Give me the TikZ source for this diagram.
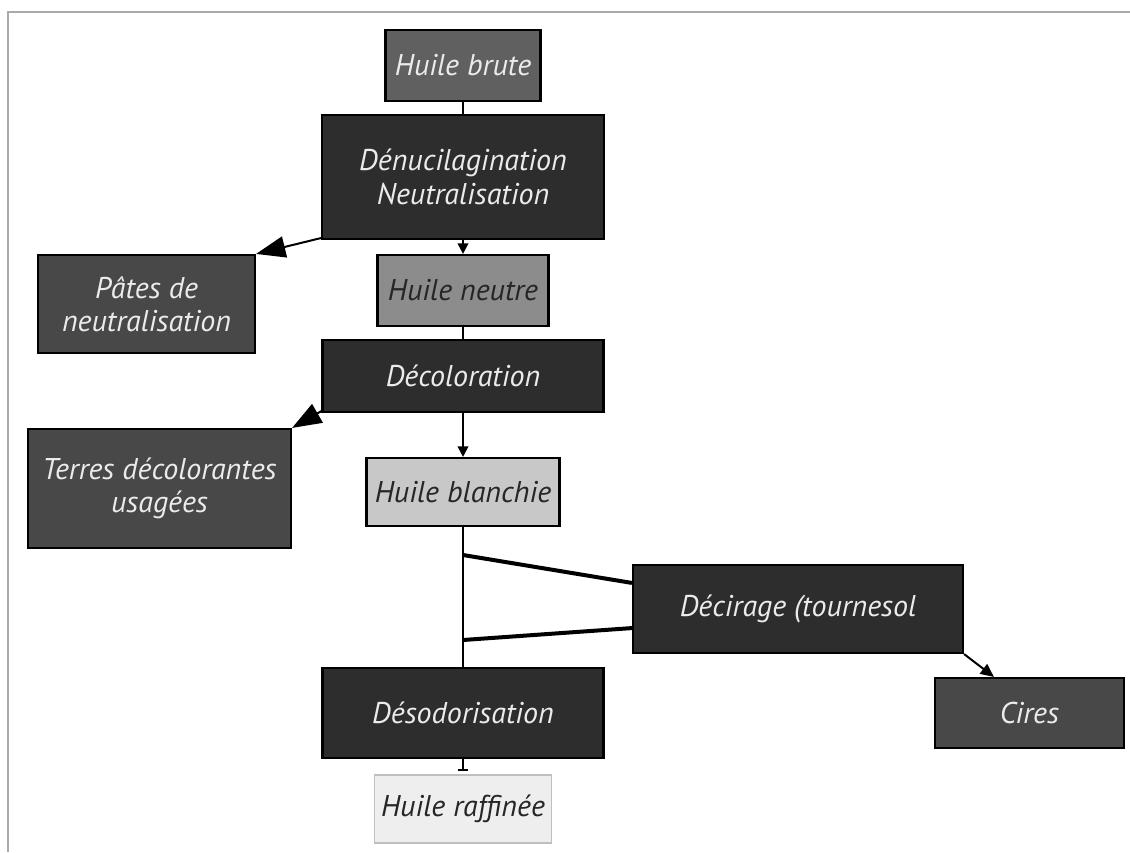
\documentclass[tikz,border=0pt]{standalone}
\usepackage{fontspec}
\setmainfont{PT Sans}
\usetikzlibrary{arrows.meta,calc}
\definecolor{cdark}{HTML}{2D2D2D}
\definecolor{cmid}{HTML}{484848}
\definecolor{cbrute}{HTML}{606060}
\definecolor{cneutre}{HTML}{8C8C8C}
\definecolor{cblanc}{HTML}{C8C8C8}
\definecolor{craff}{HTML}{EEEEEE}
\definecolor{cframe}{HTML}{AAAAAA}
\begin{document}
\begin{tikzpicture}[x=0.75pt,y=-0.75pt,
  box/.style={draw=black,line width=1.6pt,rectangle,align=center,inner sep=1pt,
    font=\fontsize{22.5}{25}\selectfont\itshape},
  darktext/.style={text=white!92!black},
  lighttext/.style={text=black!85},
  conn/.style={line width=1.5pt,draw=black},
  thick conn/.style={line width=3pt,draw=black},
  bigarrow/.style={conn,-{Triangle[length=22pt,width=16pt]}},
  smallarrow/.style={conn,-{Triangle[length=8pt,width=8pt]}}
]
\useasboundingbox (0,0) rectangle (1130,852);
\fill[white] (0,0) rectangle (1130,852);
\draw[cframe,line width=1.5pt] (8,852) -- (8,12) -- (1130,12);

\node[box,darktext,fill=cbrute,minimum width=116.25pt,minimum height=53.25pt] (brute) at (463,65.5) {Huile brute};
\node[box,darktext,fill=cdark,minimum width=211.5pt,minimum height=93pt] (denuc) at (463,177) {Dénucilagination\\Neutralisation};
\node[box,darktext,fill=cmid,minimum width=162.75pt,minimum height=73.5pt] (pates) at (146.5,304) {Pâtes de\\neutralisation};
\node[box,lighttext,fill=cneutre,minimum width=128.25pt,minimum height=53.25pt] (neutre) at (463,290.5) {Huile neutre};
\node[box,darktext,fill=cdark,minimum width=210.75pt,minimum height=54pt] (decol) at (463,376) {Décoloration};
\node[box,darktext,fill=cmid,minimum width=197.25pt,minimum height=89.25pt] (terres) at (159.5,488.5) {Terres décolorantes\\usagées};
\node[box,lighttext,fill=cblanc,minimum width=144.75pt,minimum height=51pt] (blanchie) at (463,492) {Huile blanchie};
\node[box,darktext,fill=cdark,minimum width=247.5pt,minimum height=66pt] (decir) at (798,609) {Décirage (tournesol};
\node[box,darktext,fill=cdark,minimum width=210.75pt,minimum height=67.5pt] (desod) at (463,713) {Désodorisation};
\node[box,darktext,fill=cmid,minimum width=141.75pt,minimum height=52.5pt] (cires) at (1029.5,713) {Cires};
\node[box,lighttext,fill=craff,draw=black!25,line width=1pt,minimum width=132.75pt,minimum height=51pt] (raff) at (463,809) {Huile raffinée};

\coordinate (j1) at (463,555);
\coordinate (j2) at (463,640);

\draw[conn] (brute.south) -- (denuc.north);
\draw[smallarrow] (denuc.south) -- (neutre.north);
\draw[bigarrow] ($(denuc.south west)+(0,-2)$) -- (pates.north east);
\draw[conn] (neutre.south) -- (decol.north);
\draw[bigarrow] ($(decol.south west)+(0,-2)$) -- (terres.north east);
\draw[smallarrow] (decol.south) -- (blanchie.north);
\draw[conn] (blanchie.south) -- (desod.north);
\draw[thick conn] (j1) -- ($(decir.north west)+(0,19)$);
\draw[thick conn] (j2) -- ($(decir.south west)+(0,-26)$);
\draw[conn,-{Triangle[length=10pt,width=9pt]}] (decir.south east) -- ($(cires.north west)+(60,0)$);
\draw[conn,-{Bar[width=8pt,line width=1.5pt]}] (desod.south) -- ($(raff.north)+(0,-3)$);
\end{tikzpicture}
\end{document}
